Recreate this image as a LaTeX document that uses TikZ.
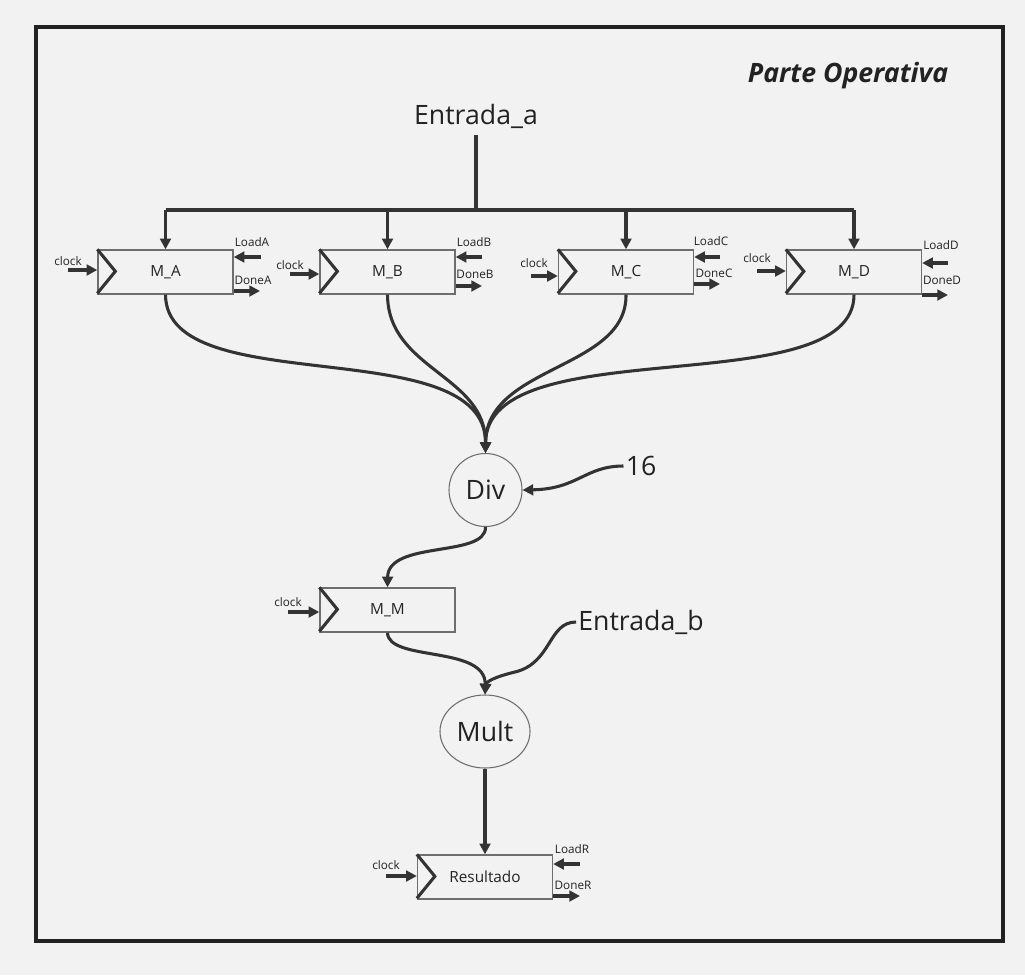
\documentclass[tikz,border=0pt]{standalone}
\usepackage{fontspec}
\setmainfont{Open Sans}
\usetikzlibrary{arrows.meta,shapes.geometric}
\definecolor{bg}{HTML}{F2F2F2}
\definecolor{ln}{HTML}{333333}
\definecolor{bd}{HTML}{6E6E6E}
\definecolor{tx}{HTML}{222222}
\begin{document}
\begin{tikzpicture}[x=0.75pt,y=-0.75pt,
 wire/.style={draw=ln,line width=2.3pt},
 arr/.style={wire,-{Triangle[length=8pt,width=8pt]}},
 reg/.style={draw=bd,line width=1pt,minimum width=101.25pt,minimum height=33pt,inner sep=0pt,font=\fontsize{11.5}{13}\selectfont,text=tx},
 clk/.style={draw=ln,line width=2.3pt,line join=miter},
 sm/.style={font=\fontsize{8.8}{10}\selectfont,text=tx,inner sep=0pt},
 big/.style={font=\fontsize{20}{24}\selectfont,text=tx,inner sep=1.5pt},
 op/.style={draw=bd,line width=0.8pt,inner sep=0pt,font=\fontsize{20}{24}\selectfont,text=tx}]
\fill[bg] (0,0) rectangle (1025,975);
\useasboundingbox (0,0) rectangle (1025,975);
\draw[draw=tx,line width=2.3pt] (36,27) rectangle (1003,941);
\node[font=\fontsize{20}{24}\selectfont\bfseries\itshape,text=tx] (title) at (848,76) {Parte Operativa};

% registers
\node[reg] (MA) at (165.5,272) {M\_A};
\node[reg] (MB) at (387.5,272) {M\_B};
\node[reg] (MC) at (626,272) {M\_C};
\node[reg] (MD) at (854,272) {M\_D};
\node[reg] (MM) at (387.5,610) {M\_M};
\node[reg] (MR) at (485,877) {Resultado};
\foreach \r in {MA,MB,MC,MD,MM,MR}{
  \draw[clk] (\r.north west) -- ++(18,22) -- ++(-18,22);
}

% Entrada_a bus
\node[big] (ea) at (476,116) {Entrada\_a};
\coordinate (eas) at (476,135);
\coordinate (bus) at (476,210);
\draw[wire] (eas) -- (bus);
\draw[wire] (bus -| MA.north) -- (bus -| MD.north);
\foreach \r in {MA,MB,MC,MD}{
  \draw[arr] (bus -| \r.north) -- (\r.north);
}

% M_A signals
\node[sm] (ckAl) at (68,261) {clock};
\coordinate (ckA) at (68,270);
\draw[arr] (ckA) -- (ckA -| MA.west);
\node[sm] (ldAl) at (252,242) {LoadA};
\coordinate (ldA) at (261,257);
\draw[arr] (ldA) -- (ldA -| MA.east);
\node[sm] (dnAl) at (253,280) {DoneA};
\coordinate (dnA) at (260,291);
\draw[arr] (dnA -| MA.east) -- (dnA);

% M_B signals
\node[sm] (ckBl) at (290,265) {clock};
\coordinate (ckB) at (290,274);
\draw[arr] (ckB) -- (ckB -| MB.west);
\node[sm] (ldBl) at (474,242) {LoadB};
\coordinate (ldB) at (482,257);
\draw[arr] (ldB) -- (ldB -| MB.east);
\node[sm] (dnBl) at (475,274) {DoneB};
\coordinate (dnB) at (482,286);
\draw[arr] (dnB -| MB.east) -- (dnB);

% M_C signals
\node[sm] (ckCl) at (534,263) {clock};
\coordinate (ckC) at (531,276);
\draw[arr] (ckC) -- (ckC -| MC.west);
\node[sm] (ldCl) at (711,241) {LoadC};
\coordinate (ldC) at (720,257);
\draw[arr] (ldC) -- (ldC -| MC.east);
\node[sm] (dnCl) at (714,273) {DoneC};
\coordinate (dnC) at (720,284);
\draw[arr] (dnC -| MC.east) -- (dnC);

% M_D signals
\node[sm] (ckDl) at (757,258) {clock};
\coordinate (ckD) at (757,271);
\draw[arr] (ckD) -- (ckD -| MD.west);
\node[sm] (ldDl) at (941,245) {LoadD};
\coordinate (ldD) at (948,263);
\draw[arr] (ldD) -- (ldD -| MD.east);
\node[sm] (dnDl) at (942,280) {DoneD};
\coordinate (dnD) at (948,295);
\draw[arr] (dnD -| MD.east) -- (dnD);

% M_M signals
\node[sm] (ckMl) at (288,602) {clock};
\coordinate (ckM) at (288,612);
\draw[arr] (ckM) -- (ckM -| MM.west);

% Resultado signals
\node[sm] (ckRl) at (386,865) {clock};
\coordinate (ckR) at (386,876);
\draw[arr] (ckR) -- (ckR -| MR.west);
\node[sm] (ldRl) at (572,849) {LoadR};
\coordinate (ldR) at (580,864);
\draw[arr] (ldR) -- (ldR -| MR.east);
\node[sm] (dnRl) at (573,885) {DoneR};
\coordinate (dnR) at (580,896);
\draw[arr] (dnR -| MR.east) -- (dnR);

% Div
\node[op,circle,minimum size=54.75pt] (Div) at (485.5,490) {Div};
\draw[arr] (MA.south) .. controls (166,402) and (486,330) .. (Div.north);
\draw[arr] (MB.south) .. controls (388,370) and (486,375) .. (Div.north);
\draw[arr] (MC.south) .. controls (627,370) and (486,365) .. (Div.north);
\draw[arr] (MD.south) .. controls (854,405) and (486,328) .. (Div.north);
\node[big] (n16) at (641,466) {16};
\draw[arr] (n16.west) .. controls (585,466) and (578,489) .. (Div.east);
\draw[arr] (Div.south) .. controls (486,558) and (388,540) .. (MM.north);

% Mult
\node[op,ellipse,minimum width=67.5pt,minimum height=54.75pt] (Mult) at (485,731.5) {Mult};
\node[big] (eb) at (641,622) {Entrada\_b};
\draw[arr] (MM.south) .. controls (388,662) and (486,645) .. (Mult.north);
\draw[arr] (eb.west) .. controls (548,622) and (552,663) .. (515,672) .. controls (494,677) and (486,682) .. (Mult.north);
\draw[arr] (Mult.south) -- (MR.north);
\end{tikzpicture}
\end{document}
